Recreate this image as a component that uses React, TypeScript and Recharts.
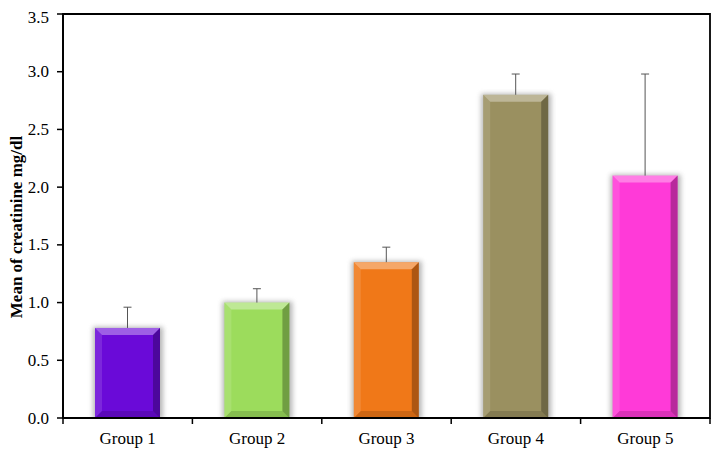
import React from 'react';
import { BarChart, Bar, XAxis, YAxis, Cell, ReferenceArea } from 'recharts';

const categories = ['Group 1', 'Group 2', 'Group 3', 'Group 4', 'Group 5'];
const means = [0.78, 1.0, 1.35, 2.8, 2.1];
const errors = [0.18, 0.12, 0.13, 0.18, 0.88];
const colors = ['#6A0AD8', '#9CDC5C', '#F07818', '#9A9060', '#FF3AD8'];
const yTicks = [0, 0.5, 1.0, 1.5, 2.0, 2.5, 3.0, 3.5];
const yLabel = 'Mean of creatinine mg/dl';

const data = categories.map((name, i) => ({ name, mean: means[i], err: errors[i] }));

const FONT = '"Liberation Serif", "Times New Roman", serif';

const BevelBar = (props: any) => {
  const { x, y, width: w, height: h, fill, index } = props;
  if (w == null || h == null || h <= 0) return null;
  const b = 7;
  const id = `sh${index}`;
  return (
    <g>
      <defs>
        <filter id={id} x="-30%" y="-30%" width="160%" height="160%">
          <feGaussianBlur stdDeviation="2.5" />
        </filter>
      </defs>
      <rect x={x - 2} y={y - 1} width={w + 5} height={h + 2} fill="#7a7a7a" opacity={0.55} filter={`url(#${id})`} />
      <rect x={x} y={y} width={w} height={h} fill={fill} />
      <polygon points={`${x},${y} ${x + w},${y} ${x + w - b},${y + b} ${x + b},${y + b}`} fill="#ffffff" opacity={0.35} />
      <polygon points={`${x},${y} ${x + b},${y + b} ${x + b},${y + h - b} ${x},${y + h}`} fill="#ffffff" opacity={0.12} />
      <polygon points={`${x + w},${y} ${x + w},${y + h} ${x + w - b},${y + h - b} ${x + w - b},${y + b}`} fill="#000000" opacity={0.28} />
      <polygon points={`${x},${y + h} ${x + w},${y + h} ${x + w - b},${y + h - b} ${x + b},${y + h - b}`} fill="#000000" opacity={0.14} />
    </g>
  );
};

const Whisker = (props: any) => {
  const { x, y, width: w, height: h } = props;
  if (w == null || h == null || h <= 0) return null;
  const cx = x + w / 2;
  return (
    <g>
      <line x1={cx} y1={y} x2={cx} y2={y + h} stroke="#555" strokeWidth={1} />
      <line x1={cx - 4} y1={y} x2={cx + 4} y2={y} stroke="#555" strokeWidth={1} />
    </g>
  );
};

const XTick = (props: any) => {
  const { x, y, payload, index } = props;
  const off = payload.offset ?? 0;
  const ax = y;
  return (
    <g>
      <line x1={x - off} y1={ax} x2={x - off} y2={ax + 6} stroke="#000" strokeWidth={1.5} />
      {index === categories.length - 1 && (
        <line x1={x + off} y1={ax} x2={x + off} y2={ax + 6} stroke="#000" strokeWidth={1.5} />
      )}
      <text x={x} y={ax + 26} textAnchor="middle" fontFamily={FONT} fontSize={17} fill="#000">
        {payload.value}
      </text>
    </g>
  );
};

const YTick = (props: any) => {
  const { x, y, payload } = props;
  return (
    <text x={x} y={y} textAnchor="end" dominantBaseline="central" fontFamily={FONT} fontSize={17} fill="#000">
      {Number(payload.value).toFixed(1)}
    </text>
  );
};

const YLabel = (props: any) => {
  const vb = props.viewBox || {};
  const cx = 8;
  const cy = (vb.y ?? 0) + (vb.height ?? 0) / 2 + 11;
  return (
    <text
      x={cx}
      y={cy}
      transform={`rotate(-90, ${cx}, ${cy})`}
      textAnchor="middle"
      dominantBaseline="central"
      fontFamily={FONT}
      fontSize={17}
      fontWeight="bold"
      fill="#000"
    >
      {yLabel}
    </text>
  );
};

export default function App() {
  return (
    <div style={{ width: 711, height: 443 }}>
      <BarChart width={711} height={443} data={data} margin={{ top: 6, right: 9, bottom: 0, left: 0 }} barSize={65}>
        <XAxis
          dataKey="name"
          axisLine={{ stroke: '#000', strokeWidth: 1.8 }}
          tickLine={false}
          tickSize={0}
          tickMargin={0}
          tick={<XTick />}
          height={33}
          interval={0}
        />
        <YAxis
          domain={[0, 3.5]}
          ticks={yTicks}
          width={55}
          allowDataOverflow
          axisLine={{ stroke: '#000', strokeWidth: 1.8 }}
          tickLine={{ stroke: '#000', strokeWidth: 1.5 }}
          tickSize={6}
          tickMargin={8}
          tick={<YTick />}
          label={<YLabel />}
        />
        <ReferenceArea y1={0} y2={3.5} fill="none" fillOpacity={0} stroke="#000" strokeWidth={1.8} />
        <Bar dataKey="mean" stackId="s" shape={<BevelBar />} isAnimationActive={false}>
          {data.map((d, i) => (
            <Cell key={d.name} fill={colors[i]} />
          ))}
        </Bar>
        <Bar dataKey="err" stackId="s" shape={<Whisker />} isAnimationActive={false} />
      </BarChart>
    </div>
  );
}
